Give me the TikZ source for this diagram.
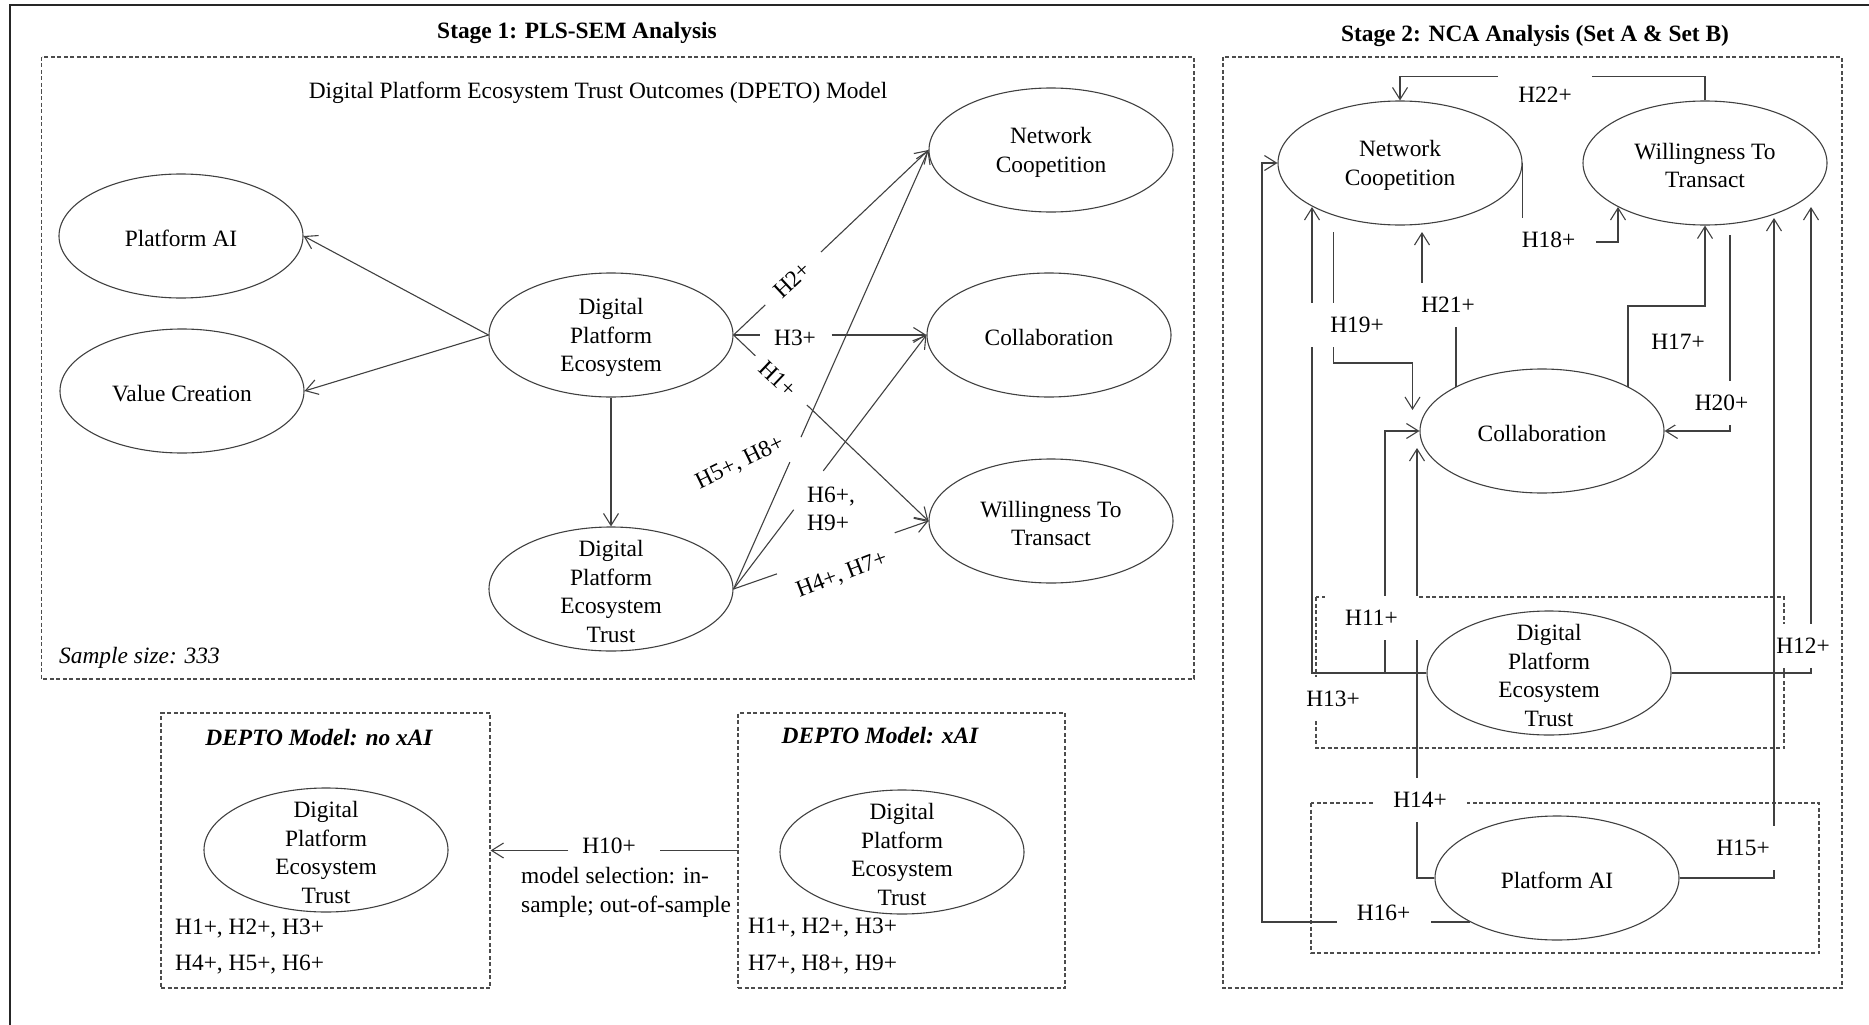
\documentclass[tikz,border=0pt]{standalone}
\usepackage{fontspec}
\setmainfont{Liberation Serif}
\usetikzlibrary{arrows.meta,shapes.geometric}
\begin{document}
\begin{tikzpicture}[x=1pt,y=-1pt,
  font=\fontsize{23.4pt}{28.5pt}\selectfont,
  ln/.style={draw=black!75,line width=1.1pt},
  arr/.style={ln,-{Straight Barb[length=12pt,width=15pt]}},
  ell/.style={ellipse,draw=black!75,line width=1.1pt,inner sep=0pt,minimum width=244pt,minimum height=124pt},
  txt/.style={align=center,inner sep=0pt,yshift=-2.5pt},
  dbox/.style={draw=black!70,line width=1.1pt,dash pattern=on 4pt off 2.5pt},
  hyp/.style={inner sep=0pt},
  hl/.style={fill=white,inner sep=0pt,minimum width=94pt,minimum height=44pt},
]
\useasboundingbox (0,0) rectangle (1869,1025);
% outer frame (top and left edges)
\draw[line width=2.6pt,black!85] (10,1040) -- (10,5) -- (1880,5);

% ---------------- Stage 1 ----------------
\node (st1) at (577,33) {\bfseries Stage 1: PLS-SEM Analysis};
\draw[dbox] (41.5,57) rectangle (1194,679);
\node (sub) at (598,93) {Digital Platform Ecosystem Trust Outcomes (DPETO) Model};
\node[anchor=west,inner sep=0pt] (ss) at (59,658) {\itshape Sample size: 333};

\node[ell] (pai) at (181,236) {};
\node[txt] (pai-t) at (pai) {Platform AI};
\node[ell] (vc) at (182,391) {};
\node[txt] (vc-t) at (vc) {Value Creation};
\node[ell] (dpe) at (611,335) {};
\node[txt] (dpe-t) at (dpe) {Digital\\Platform\\Ecosystem};
\node[ell] (dpet) at (611,589) {};
\node[txt] (dpet-t) at (dpet) {Digital\\Platform\\Ecosystem\\Trust};
\node[ell] (nc) at (1051,150) {};
\node[txt] (nc-t) at (nc) {Network\\Coopetition};
\node[ell] (co) at (1049,335) {};
\node[txt] (co-t) at (co) {Collaboration};
\node[ell] (wt) at (1051,521) {};
\node[txt] (wt-t) at (wt) {Willingness To\\Transact};

\draw[arr] (dpe.west) -- (pai.east);
\draw[arr] (dpe.west) -- (vc.east);
\draw[arr] (dpe.south) -- (dpet.north);

% hypothesis paths, each broken where its label sits
\path (dpe.east) -- (nc.west) coordinate[pos=0.163] (h2a) coordinate[pos=0.449] (h2b);
\draw[ln] (dpe.east) -- (h2a); \draw[arr] (h2b) -- (nc.west);
\path (dpe.east) -- (co.west) coordinate[pos=0.139] (h3a) coordinate[pos=0.509] (h3b);
\draw[ln] (dpe.east) -- (h3a); \draw[arr] (h3b) -- (co.west);
\path (dpe.east) -- (wt.west) coordinate[pos=0.112] (h1a) coordinate[pos=0.376] (h1b);
\draw[ln] (dpe.east) -- (h1a); \draw[arr] (h1b) -- (wt.west);
\path (dpet.east) -- (nc.west) coordinate[pos=0.289] (h5a) coordinate[pos=0.346] (h5b);
\draw[ln] (dpet.east) -- (h5a); \draw[arr] (h5b) -- (nc.west);
\path (dpet.east) -- (co.west) coordinate[pos=0.312] (h6a) coordinate[pos=0.465] (h6b);
\draw[ln] (dpet.east) -- (h6a); \draw[arr] (h6b) -- (co.west);
\path (dpet.east) -- (wt.west) coordinate[pos=0.223] (h4a) coordinate[pos=0.827] (h4b);
\draw[ln] (dpet.east) -- (h4a); \draw[arr] (h4b) -- (wt.west);

\node[hyp,rotate=43] (l2) at (792,280) {H2+};
\node[hyp] (l3) at (795,338) {H3+};
\node[hyp,rotate=-43.6] (l1) at (778,379) {H1+};
\node[hyp,rotate=26] (l58) at (740,463) {H5+, H8+};
\node[hyp,anchor=west,align=left] (l69) at (807,509) {H6+,\\H9+};
\node[hyp,rotate=21] (l47) at (842,575) {H4+, H7+};

% ---------------- Model comparison ----------------
\node[dbox,minimum width=329pt,minimum height=275pt,inner sep=0pt] (b1) at (325.5,850.5) {};
\node[dbox,minimum width=327pt,minimum height=275pt,inner sep=0pt] (b2) at (901.5,850.5) {};
\node (b1-t) at (319,738) {\bfseries\itshape DEPTO Model: no xAI};
\node (b2-t) at (880,736) {\bfseries\itshape DEPTO Model: xAI};
\node[ell] (e1) at (326,850) {};
\node[txt] (e1-t) at (e1) {Digital\\Platform\\Ecosystem\\Trust};
\node[ell] (e2) at (902,852) {};
\node[txt] (e2-t) at (e2) {Digital\\Platform\\Ecosystem\\Trust};
\node[hyp,anchor=west] (e1-h1) at (175,929) {H1+, H2+, H3+};
\node[hyp,anchor=west] (e1-h2) at (175,965) {H4+, H5+, H6+};
\node[hyp,anchor=west] (e2-h1) at (748,928) {H1+, H2+, H3+};
\node[hyp,anchor=west] (e2-h2) at (748,965) {H7+, H8+, H9+};

\path (b2.west) -- (b1.east) coordinate[pos=0.3145] (h10a) coordinate[pos=0.685] (h10b);
\draw[ln] (b2.west) -- (h10a); \draw[arr] (h10b) -- (b1.east);
\node[hyp] (l10) at (609,846) {H10+};
\node[hyp,anchor=west,align=left] (msel) at (521,892.5) {model selection: in-\\sample; out-of-sample};

% ---------------- Stage 2 ----------------
\node (st2) at (1535,36) {\bfseries Stage 2: NCA Analysis (Set A \& Set B)};
\draw[dbox] (1223,57) rectangle (1842,988);
\draw[dbox] (1316,597) rectangle (1784,748);
\draw[dbox] (1311,803) rectangle (1819,953);

\node[ell] (nc2) at (1400,163) {};
\node[txt] (nc2-t) at (nc2) {Network\\Coopetition};
\node[ell] (wt2) at (1705,163) {};
\node[txt] (wt2-t) at (wt2) {Willingness To\\Transact};
\node[ell] (c2) at (1542,431) {};
\node[txt] (c2-t) at (c2) {Collaboration};
\node[ell] (t2) at (1549,673) {};
\node[txt] (t2-t) at (t2) {Digital\\Platform\\Ecosystem\\Trust};
\node[ell] (p2) at (1557,878) {};
\node[txt] (p2-t) at (p2) {Platform AI};

% free ends of the stage-2 paths
\coordinate (q18) at (1618,207);
\coordinate (s21) at (1456,387);
\coordinate (q21) at (1422,232);
\coordinate (s19) at (1333.5,232);
\coordinate (q19) at (1412.5,410);
\coordinate (s17) at (1628,387);
\coordinate (s20) at (1730,235);
\coordinate (q13) at (1312,207);
\coordinate (q12) at (1811,207);
\coordinate (q14) at (1417,448);
\coordinate (q15) at (1774,218);
\coordinate (s16) at (1470,922);

\draw[arr] (wt2.north) -- ++(0,-24) -| (nc2.north);
\draw[arr] (nc2.east) -- ++(0,79) -| (q18);
\draw[arr] (s21) -- (1456,305) -- (1422,305) -- (q21);
\draw[arr] (s19) -- (1333.5,363) -| (q19);
\draw[arr] (s17) -- (1628,306) -| (wt2.south);
\draw[arr] (s20) |- (c2.east);
\draw[arr] (t2.west) -- (1385,673) |- (c2.west);
\draw[arr] (t2.west) -- (1312,673) -- (q13);
\draw[arr] (t2.east) -- (1811,673) -- (q12);
\draw[arr] (p2.west) -- (1417,878) -- (q14);
\draw[arr] (p2.east) -- (1774,878) -- (q15);
\draw[arr] (s16) -- (1262,922) |- (nc2.west);

\node[hl] (l22) at (1545,95) {H22+};
\node[hl] (l18) at (1548.5,240) {H18+};
\node[hl] (l21) at (1448,305) {H21+};
\node[hl] (l19) at (1357,325) {H19+};
\node[hl] (l17) at (1678,342) {H17+};
\node[hl] (l20) at (1721.5,403) {H20+};
\node[hl] (l11) at (1371.5,618) {H11+};
\node[hl] (l13) at (1333,699) {H13+};
\node[hl,minimum width=56pt] (l12) at (1803,646) {H12+};
\node[hl] (l14) at (1420,800) {H14+};
\node[hl] (l15) at (1743,848) {H15+};
\node[hl] (l16) at (1383.6,913) {H16+};
\end{tikzpicture}
\end{document}
